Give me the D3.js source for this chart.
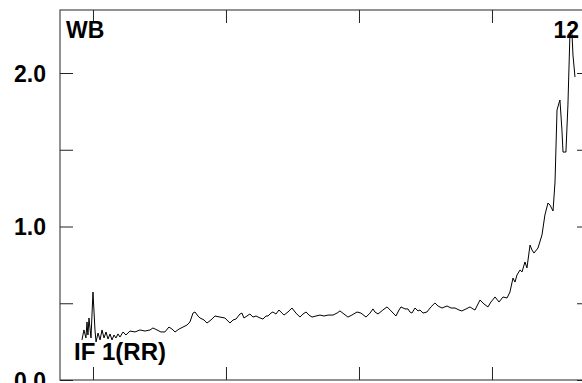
<!DOCTYPE html>
<html>
<head>
<meta charset="utf-8">
<script src="https://cdn.jsdelivr.net/npm/d3@7"></script>
<style>
  html, body { margin: 0; padding: 0; background: #fff; overflow: hidden; }
  svg text { font-family: "Liberation Sans", Arial, sans-serif; font-weight: bold; fill: #000; }
</style>
</head>
<body>
<svg id="chart" width="582" height="383"></svg>
<script>
// ---- data ----
const xValues = [-8.3,-6.8,-5.3,-4.5,-3.8,-3.0,-1.5,0,1.5,2.3,3.8,5.3,6.8,8.3,9.8,11.3,12.8,14.3,15.8,17.3,18.8,20.3,22.6,24.8,27.8,31.6,35.3,39.1,42.9,45.1,48.1,51.1,54.1,57.1,59.4,61.7,64.7,67.7,70.7,72.9,75.2,76.7,78.9,80.5,83.5,85.7,88.7,91.7,95.5,99.2,103.0,105.3,107.5,110.5,112.0,113.5,115.8,118.0,120.3,122.6,125.6,127.8,130.1,131.6,133.8,135.3,137.6,139.8,142.1,143.6,146.6,149.6,152.6,155.6,157.9,160.2,162.4,164.7,167.7,170.7,173.7,176.7,180.5,183.5,185.7,188.7,191.7,194.7,198.5,201.5,205.3,208.3,210.5,212.0,214.3,218.0,221.1,224.1,227.8,230.1,231.6,234.6,236.8,238.3,239.8,242.1,244.4,245.9,248.1,251.1,254.1,257.1,259.4,262.4,266.2,269.2,272.2,275.2,277.4,280.5,283.5,285.7,287.2,289.5,291.0,294.0,297.0,299.2,302.3,305.3,308.3,311.3,313.5,315.8,317.3,318.8,321.1,322.6,324.8,326.3,328.6,330.1,331.6,334.6,337.6,339.8,342.1,343.6,345.9,347.4,348.9,350.4,351.1,352.6,353.4,355.6,357.1,358.6,359.4,360.2,360.9,362.4];
const yValues = [0.261,0.326,0.274,0.378,0.293,0.404,0.274,0.573,0.326,0.248,0.306,0.261,0.326,0.274,0.313,0.267,0.300,0.261,0.293,0.274,0.300,0.280,0.313,0.293,0.319,0.313,0.326,0.319,0.326,0.339,0.326,0.313,0.313,0.345,0.332,0.313,0.332,0.345,0.358,0.378,0.436,0.443,0.417,0.404,0.391,0.371,0.391,0.417,0.410,0.404,0.371,0.391,0.397,0.430,0.436,0.404,0.417,0.430,0.410,0.417,0.404,0.397,0.417,0.417,0.436,0.443,0.430,0.456,0.436,0.423,0.443,0.469,0.436,0.410,0.430,0.443,0.423,0.410,0.417,0.423,0.417,0.423,0.423,0.436,0.450,0.430,0.410,0.423,0.443,0.436,0.410,0.436,0.463,0.443,0.430,0.456,0.476,0.450,0.417,0.456,0.476,0.463,0.463,0.443,0.436,0.469,0.450,0.456,0.436,0.443,0.476,0.502,0.482,0.469,0.482,0.469,0.469,0.456,0.450,0.463,0.476,0.463,0.456,0.495,0.521,0.495,0.476,0.508,0.541,0.508,0.541,0.534,0.573,0.664,0.638,0.684,0.717,0.704,0.769,0.730,0.879,0.847,0.827,0.860,0.945,1.075,1.153,1.140,1.101,1.290,1.759,1.805,1.824,1.629,1.485,1.485,1.792,2.248,2.280,2.248,2.117,1.974];
const xTicks = [0, 100, 200, 300];
const yMajorTicks = [0, 1, 2];
const yMinorTicks = [0.5, 1.5];
const yTickLabels = ["0.0", "1.0", "2.0"];
const cornerLabels = { topLeft: "WB", topRight: "12", bottomLeft: "IF 1(RR)" };

// ---- layout ----
const svg = d3.select("#chart");
const L = 60, R = 590, T = 10, B = 380;
const x = d3.scaleLinear().domain([-24.8, 373.7]).range([L, R]);
const y = d3.scaleLinear().domain([0, 2]).range([B, 73]);
const tickLen = 13;
const frameColor = "#4a4a4a";

// frame
svg.append("rect").attr("x", L).attr("y", T).attr("width", R - L).attr("height", B - T)
  .attr("fill", "none").attr("stroke", frameColor).attr("stroke-width", 1.2);

// axes via d3 axis generators (ticks inward, no labels)
const yAll = yMajorTicks.concat(yMinorTicks);
svg.append("g").attr("transform", `translate(${L},0)`)
  .call(d3.axisRight(y).tickValues(yAll).tickSize(tickLen).tickFormat(""))
  .call(g => g.select(".domain").remove());
svg.append("g").attr("transform", `translate(${R},0)`)
  .call(d3.axisLeft(y).tickValues(yAll).tickSize(tickLen).tickFormat(""))
  .call(g => g.select(".domain").remove());
svg.append("g").attr("transform", `translate(0,${T})`)
  .call(d3.axisBottom(x).tickValues(xTicks).tickSize(tickLen).tickFormat(""))
  .call(g => g.select(".domain").remove());
svg.append("g").attr("transform", `translate(0,${B})`)
  .call(d3.axisTop(x).tickValues(xTicks).tickSize(tickLen).tickFormat(""))
  .call(g => g.select(".domain").remove());
svg.selectAll(".tick line").attr("stroke", "#222").attr("stroke-width", 1);

// y labels
svg.selectAll(".ylab").data(yMajorTicks).enter().append("text")
  .attr("class", "ylab")
  .attr("x", 46).attr("y", d => y(d) + 8.5)
  .attr("text-anchor", "end").attr("font-size", 23)
  .text((d, i) => yTickLabels[i]);

// data line
const line = d3.line().x((d, i) => x(xValues[i])).y(d => y(d));
svg.append("path").datum(yValues)
  .attr("d", line).attr("fill", "none")
  .attr("stroke", "#000").attr("stroke-width", 1).attr("stroke-linejoin", "miter");

// corner labels
svg.append("text").attr("x", 66).attr("y", 37.5).attr("font-size", 23).text(cornerLabels.topLeft);
svg.append("text").attr("x", 579).attr("y", 38).attr("text-anchor", "end").attr("font-size", 23).text(cornerLabels.topRight);
svg.append("text").attr("x", 74).attr("y", 360).attr("font-size", 24).text(cornerLabels.bottomLeft);
</script>
</body>
</html>
